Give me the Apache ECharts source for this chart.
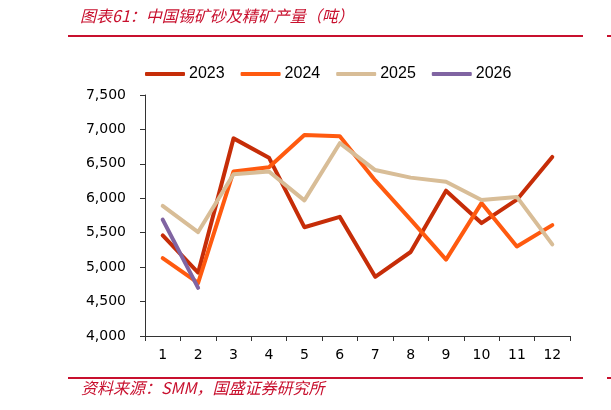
<!DOCTYPE html>
<html><head><meta charset="utf-8">
<script src="https://cdn.jsdelivr.net/npm/echarts@6/dist/echarts.min.js"></script>
<style>html,body{margin:0;padding:0;background:#fff}#c{width:611px;height:410px}</style>
</head><body><div id="c"></div>
<script>
const months = ['1','2','3','4','5','6','7','8','9','10','11','12'];
const s2023 = [5460, 4920, 6870, 6590, 5580, 5730, 4860, 5220, 6110, 5640, 5980, 6600];
const s2024 = [5130, 4770, 6390, 6450, 6920, 6900, 6260, 5690, 5110, 5930, 5300, 5610];
const s2025 = [5890, 5510, 6350, 6390, 5970, 6800, 6410, 6300, 6240, 5975, 6020, 5330];
const s2026 = [5690, 4700];
const seriesNames = ['2023', '2024', '2025', '2026'];
const colors = ['#C62D08', '#FF5A0F', '#D8BD97', '#8064A2'];
const yTicks = {min: 4000, max: 7500, interval: 500};

const chart = echarts.init(document.getElementById('c'));
const data = [s2023, s2024, s2025, s2026];
const red = '#C8102E';
chart.setOption({
  animation: false,
  textStyle: {fontFamily: 'DejaVu Sans'},
  graphic: [
    {type: 'text', left: 80, top: 8, style: {text: '图表61：中国锡矿砂及精矿产量（吨）', fill: red, font: 'italic 16px "Noto Sans CJK SC"'}},
    {type: 'rect', shape: {x: 68, y: 35, width: 515, height: 2}, style: {fill: red}},
    {type: 'rect', shape: {x: 607, y: 35, width: 4, height: 2}, style: {fill: red}},
    {type: 'rect', shape: {x: 68, y: 377, width: 515, height: 2}, style: {fill: red}},
    {type: 'rect', shape: {x: 607, y: 377, width: 4, height: 2}, style: {fill: red}},
    {type: 'text', left: 81, top: 380, style: {text: '资料来源：SMM，国盛证券研究所', fill: red, font: 'italic 16px "Noto Sans CJK SC"'}}
  ],
  legend: {
    top: 61, left: 140,
    itemWidth: 40, itemHeight: 4, itemGap: 16,
    icon: 'roundRect',
    textStyle: {fontSize: 16, color: '#000', fontFamily: 'Liberation Sans', padding: [0, 0, 0, -1]},
    data: seriesNames
  },
  grid: {left: 145, right: 41, top: 95, bottom: 74},
  xAxis: {
    type: 'category', data: months, boundaryGap: true,
    axisLine: {lineStyle: {color: '#333', width: 1}},
    axisTick: {show: true, inside: false, length: 5, lineStyle: {color: '#333'}},
    axisLabel: {color: '#000', fontSize: 14, margin: 12, fontFamily: 'DejaVu Sans'}
  },
  yAxis: {
    type: 'value', min: yTicks.min, max: yTicks.max, interval: yTicks.interval,
    splitLine: {show: false},
    axisLine: {show: true, lineStyle: {color: '#333', width: 1}},
    axisTick: {show: true, length: 5, lineStyle: {color: '#333'}},
    axisLabel: {color: '#000', fontSize: 14, margin: 19, fontFamily: 'DejaVu Sans',
      formatter: v => v.toLocaleString('en-US')}
  },
  series: seriesNames.map((n, i) => ({
    name: n, type: 'line', data: data[i], symbol: 'none',
    lineStyle: {width: 4, color: colors[i], cap: 'round', join: 'round'},
    itemStyle: {color: colors[i]}
  }))
});
</script></body></html>
